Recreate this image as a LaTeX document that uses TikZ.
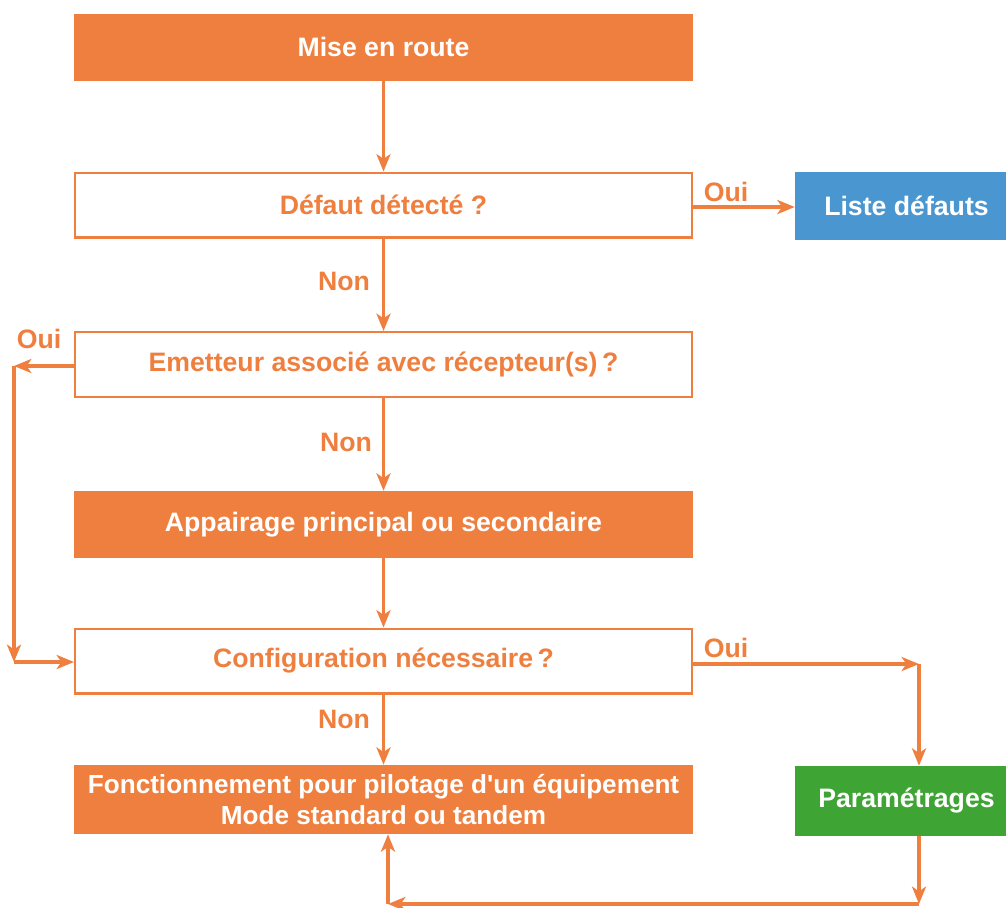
\documentclass[tikz,border=0pt]{standalone}
\usepackage{fontspec}
\setmainfont{Liberation Sans}
\usetikzlibrary{arrows.meta}
\definecolor{orng}{HTML}{EF7F3E}
\definecolor{blu}{HTML}{4A96D0}
\definecolor{grn}{HTML}{3EA535}
\begin{document}
\begin{tikzpicture}[x=0.75pt,y=-0.75pt,
  font=\fontsize{20}{23}\selectfont\bfseries,
  filledbox/.style={draw=none,fill=orng,text=white,minimum width=619*0.75pt,minimum height=67*0.75pt,inner sep=0pt,align=center},
  openbox/.style={draw=orng,line width=1.8pt,fill=white,text=orng,minimum width=619*0.75pt-1.8pt,minimum height=67*0.75pt-1.8pt,inner sep=0pt,align=center},
  sidebox/.style={draw=none,text=white,minimum width=211*0.75pt,minimum height=68*0.75pt,inner sep=0pt,align=center},
  lbl/.style={text=orng,inner sep=0pt},
  conn/.style={draw=orng,line width=2.5pt,-{Stealth[length=13pt,width=10.5pt,inset=3.5pt]}}
]
\useasboundingbox (0,0) rectangle (1006,907);
\node[filledbox] (mise) at (383.5,47) {Mise en route};
\node[openbox] (defaut) at (383.5,205) {Défaut détecté ?};
\node[sidebox,fill=blu] (liste) at (900.5,206) {\hspace*{9pt}Liste défauts};
\node[openbox] (emet) at (383.5,364.5) {Emetteur associé avec récepteur(s)\,?};
\node[filledbox] (appa) at (383.5,524.5) {Appairage principal ou secondaire};
\node[openbox] (config) at (383.5,661) {Configuration nécessaire\,?};
\node[filledbox,minimum height=69*0.75pt,font=\fontsize{19.6}{23}\selectfont\bfseries] (fonct) at (383.5,799.5) {Fonctionnement pour pilotage d\textquotesingle un équipement\\Mode standard ou tandem};
\node[sidebox,fill=grn,minimum height=70*0.75pt] (param) at (900.5,801) {\hspace*{9pt}Paramétrages};

\node[lbl] (oui1) at (726,192) {Oui};
\node[lbl] (non1) at (344,281) {Non};
\node[lbl] (oui2) at (39,339) {Oui};
\node[lbl] (non2) at (346,442) {Non};
\node[lbl] (oui3) at (726,648) {Oui};
\node[lbl] (non3) at (344,719) {Non};

\coordinate (l1) at (14,366);
\coordinate (l2) at (14,662);
\coordinate (r1) at (919,664);
\coordinate (b1) at (919,904);
\coordinate (b2) at (388,904);

\draw[conn] (mise) -- (defaut);
\draw[conn] (defaut.east |- 0,207) -- (liste.west |- 0,207);
\draw[conn] (defaut) -- (emet);
\draw[conn] (emet.west |- l1) -- (l1);
\draw[conn] (l1) -- (l2);
\draw[conn] (l2) -- (l2 -| config.west);
\draw[conn] (emet) -- (appa);
\draw[conn] (appa) -- (config);
\draw[conn] (config) -- (fonct);
\draw[conn] (config.east |- r1) -- (r1);
\draw[conn] (r1) -- (r1 |- param.north);
\draw[conn] (r1 |- param.south) -- (b1);
\draw[conn] (b1) -- (b2);
\draw[conn] (b2) -- (b2 |- fonct.south);
\end{tikzpicture}
\end{document}
